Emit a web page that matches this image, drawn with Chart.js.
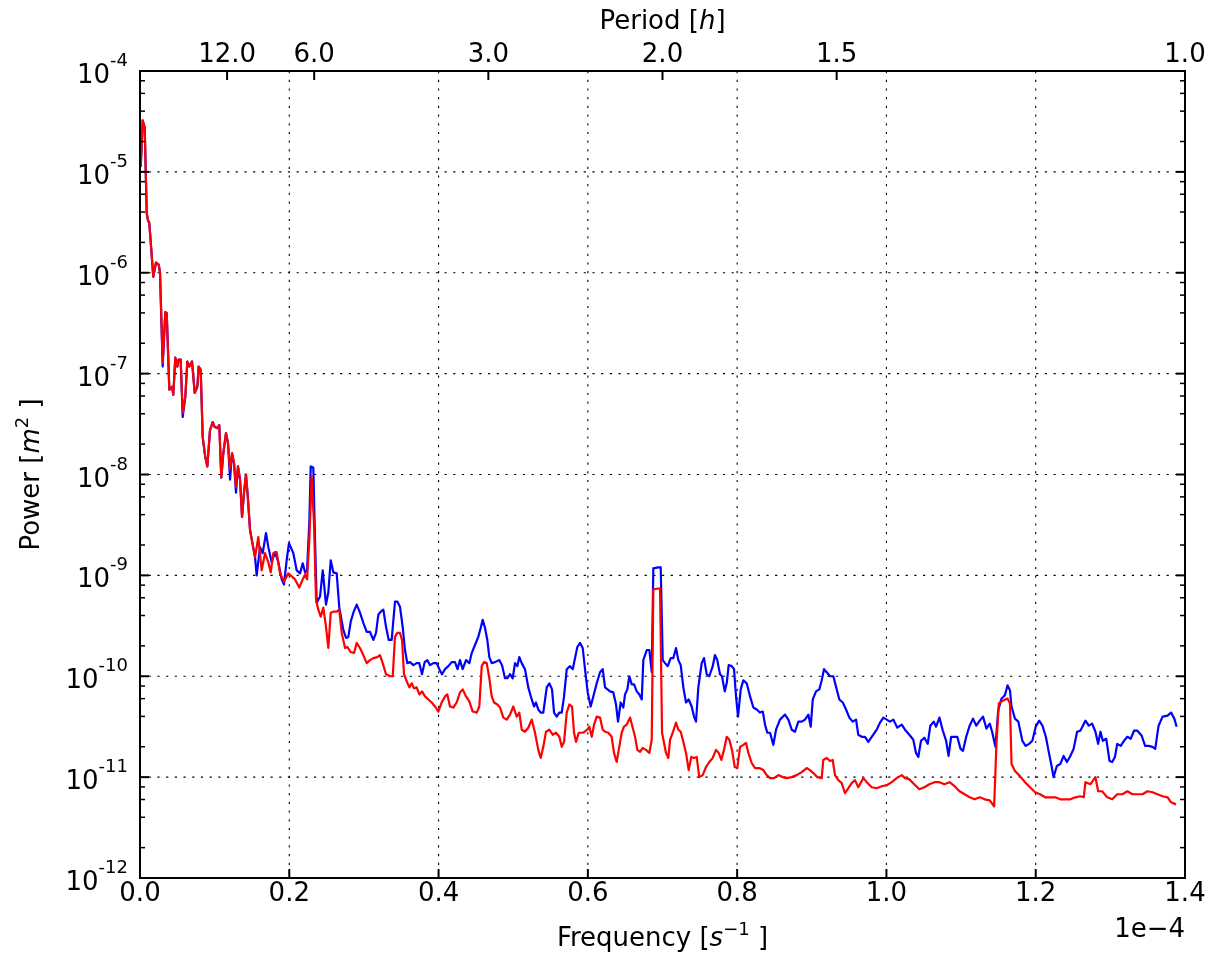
<!DOCTYPE html>
<html>
<head>
<meta charset="utf-8">
<script src="https://cdn.jsdelivr.net/npm/chart.js@4/dist/chart.umd.min.js"></script>
<style>
  body { margin: 0; background: #fff; }
</style>
</head>
<body>
<canvas id="spectrum" width="1211" height="955"></canvas>
<script>
// frequency in units of 1e-4 Hz, power as log10(P [m^2])
const bluePoints = [
  [0.001,-4.95],[0.0036,-4.49],[0.0063,-4.56],[0.009,-5.41],[0.0107,-5.48],[0.0125,-5.51],[0.0178,-6.04],[0.0214,-5.90],[0.0251,-5.92],[0.0268,-6.00],
  [0.0304,-6.93],[0.0339,-6.39],[0.0358,-6.40],[0.0393,-7.16],[0.0429,-7.13],[0.0446,-7.21],[0.0473,-6.84],[0.05,-6.93],[0.0518,-6.86],[0.0545,-6.86],
  [0.0572,-7.43],[0.0607,-7.23],[0.0634,-6.88],[0.066,-6.93],[0.0697,-6.88],[0.0733,-7.19],[0.0768,-7.13],[0.0786,-6.93],[0.0813,-6.96],[0.084,-7.63],
  [0.0875,-7.83],[0.0902,-7.92],[0.0938,-7.56],[0.0974,-7.48],[0.1001,-7.53],[0.1036,-7.54],[0.1062,-7.51],[0.1089,-8.03],[0.1116,-7.79],[0.1152,-7.59],
  [0.1179,-7.69],[0.1206,-8.05],[0.1233,-7.79],[0.126,-7.89],[0.1286,-8.18],[0.1313,-7.92],[0.134,-8.05],[0.1367,-8.42],[0.1393,-8.18],[0.142,-8.00],
  [0.1447,-8.25],[0.1474,-8.55],
  [0.1541,-8.82],[0.1563,-9.00],[0.1608,-8.72],[0.1644,-8.78],[0.1688,-8.58],[0.1719,-8.72],[0.1764,-8.87],[0.1809,-8.77],[0.1853,-8.87],[0.1898,-9.04],
  [0.1929,-9.09],[0.1965,-8.85],[0.1996,-8.68],[0.2054,-8.78],[0.2099,-8.95],[0.2144,-8.98],[0.218,-8.88],[0.2211,-8.97],[0.2238,-8.95],[0.2268,-8.48],
  [0.2287,-7.92],[0.2322,-7.93],[0.2345,-8.65],[0.2367,-9.27],[0.2412,-9.21],[0.2448,-8.95],[0.2492,-9.29],[0.2523,-9.17],[0.2555,-8.85],[0.259,-8.97],
  [0.2635,-8.98],[0.267,-9.32],[0.2724,-9.54],[0.276,-9.62],[0.2791,-9.61],[0.2823,-9.46],[0.2858,-9.37],[0.2903,-9.29],[0.2947,-9.37],[0.2992,-9.47],
  [0.3037,-9.56],[0.3081,-9.56],[0.3126,-9.64],[0.3162,-9.57],[0.3193,-9.39],[0.3225,-9.36],[0.326,-9.34],[0.3296,-9.51],[0.3332,-9.64],[0.3372,-9.64],
  [0.3416,-9.26],[0.3447,-9.26],[0.3483,-9.31],[0.3519,-9.51],[0.355,-9.74],[0.3581,-9.87],[0.3617,-9.86],[0.3662,-9.89],[0.3707,-9.87],[0.3742,-9.87],
  [0.3778,-9.98],[0.3814,-9.86],[0.3849,-9.84],[0.3885,-9.89],[0.393,-9.87],[0.3975,-9.87],[0.401,-9.93],[0.4046,-9.98],[0.4086,-9.93],[0.4131,-9.90],
  [0.4176,-9.86],[0.422,-9.86],[0.4254,-9.93],[0.4287,-9.84],[0.4323,-9.93],[0.4368,-9.84],[0.4412,-9.87],[0.4444,-9.77],[0.4488,-9.69],[0.4532,-9.61],
  [0.4565,-9.52],[0.4591,-9.44],[0.4622,-9.52],[0.4653,-9.64],[0.468,-9.81],[0.4712,-9.87],[0.4756,-9.86],[0.4814,-9.84],[0.485,-9.89],[0.489,-10.02],
  [0.4921,-10.02],[0.4957,-9.98],[0.4993,-10.02],[0.5024,-9.87],[0.5055,-9.90],[0.5082,-9.81],[0.5114,-9.87],[0.5158,-9.93],[0.5202,-10.11],[0.5248,-10.23],
  [0.5279,-10.30],[0.5305,-10.26],[0.5336,-10.33],[0.5368,-10.36],[0.5403,-10.36],[0.5449,-10.11],[0.5484,-10.07],[0.552,-10.13],[0.5547,-10.36],[0.5583,-10.40],
  [0.5618,-10.36],[0.565,-10.36],[0.5681,-10.20],[0.5717,-9.93],[0.5761,-9.90],[0.5797,-9.93],[0.5859,-9.71],[0.5895,-9.67],[0.5931,-9.72],[0.5962,-9.93],
  [0.5998,-10.16],[0.6038,-10.30],[0.6073,-10.20],[0.6119,-10.07],[0.6163,-9.96],[0.6199,-9.93],[0.623,-10.11],[0.6297,-10.15],[0.6341,-10.16],[0.6377,-10.28],
  [0.6404,-10.45],[0.644,-10.26],[0.6475,-10.31],[0.6498,-10.18],[0.6529,-10.13],[0.6556,-10.00],[0.6588,-10.08],[0.6619,-10.08],[0.6655,-10.15],[0.669,-10.18],
  [0.6722,-10.23],[0.6743,-9.84],[0.6789,-9.74],[0.6824,-9.74],[0.6856,-9.96],[0.6877,-8.93],[0.6944,-8.92],[0.6976,-8.92],[0.7003,-9.84],[0.7034,-9.87],
  [0.707,-9.90],[0.711,-9.82],[0.7145,-9.82],[0.7181,-9.72],[0.7212,-9.84],[0.7244,-9.89],[0.7279,-10.11],[0.7315,-10.26],[0.7351,-10.23],[0.7391,-10.30],
  [0.7422,-10.40],[0.7449,-10.45],[0.748,-10.11],[0.7525,-9.87],[0.7556,-9.82],[0.7592,-9.98],[0.7627,-10.00],[0.7673,-9.90],[0.7703,-9.79],[0.7734,-9.84],
  [0.777,-9.98],[0.7797,-10.00],[0.7834,-10.15],[0.786,-10.07],[0.7887,-9.89],[0.7927,-9.90],[0.7958,-9.93],[0.7985,-10.20],[0.8012,-10.40],[0.8048,-10.13],
  [0.8083,-10.04],[0.8128,-10.07],[0.8173,-10.20],[0.8217,-10.31],[0.8262,-10.33],[0.8307,-10.36],[0.8343,-10.35],[0.8374,-10.48],[0.8404,-10.56],[0.8441,-10.56],
  [0.8485,-10.68],[0.8521,-10.53],[0.8574,-10.43],[0.8641,-10.38],[0.8686,-10.43],[0.8731,-10.53],[0.8775,-10.55],[0.882,-10.45],[0.8865,-10.45],[0.8909,-10.43],
  [0.8954,-10.38],[0.8986,-10.50],[0.9013,-10.23],[0.9057,-10.15],[0.9101,-10.13],[0.9133,-10.04],[0.9164,-9.93],[0.92,-9.96],[0.9244,-10.00],[0.9289,-10.00],
  [0.9334,-10.13],[0.9369,-10.23],[0.9415,-10.26],[0.9459,-10.33],[0.9503,-10.41],[0.9548,-10.45],[0.9593,-10.43],[0.9623,-10.58],[0.9669,-10.60],[0.9713,-10.60],
  [0.9757,-10.65],[0.9803,-10.60],[0.987,-10.53],[0.9914,-10.46],[0.9959,-10.41],[1.0004,-10.43],[1.0048,-10.45],[1.0093,-10.43],[1.0146,-10.51],[1.0205,-10.48],
  [1.0249,-10.53],[1.0307,-10.58],[1.036,-10.63],[1.0396,-10.76],[1.0427,-10.80],[1.0463,-10.64],[1.0508,-10.61],[1.0553,-10.67],[1.0588,-10.49],[1.0634,-10.45],
  [1.0665,-10.50],[1.071,-10.41],[1.0756,-10.54],[1.08,-10.64],[1.0832,-10.79],[1.0867,-10.60],[1.0913,-10.60],[1.0949,-10.60],[1.0993,-10.72],[1.1025,-10.74],
  [1.1069,-10.60],[1.1115,-10.49],[1.116,-10.42],[1.1204,-10.49],[1.125,-10.44],[1.1294,-10.40],[1.134,-10.52],[1.1384,-10.47],[1.1416,-10.55],[1.146,-10.70],
  [1.1497,-10.34],[1.1542,-10.22],[1.1586,-10.19],[1.1623,-10.09],[1.1655,-10.14],[1.1676,-10.30],[1.1722,-10.42],[1.1767,-10.45],[1.1821,-10.64],[1.1865,-10.69],
  [1.1911,-10.67],[1.1955,-10.64],[1.2,-10.50],[1.2046,-10.44],[1.209,-10.49],[1.2136,-10.60],[1.2172,-10.74],[1.2207,-10.87],[1.2239,-11.00],[1.2283,-10.89],
  [1.2329,-10.87],[1.2374,-10.79],[1.2418,-10.85],[1.2464,-10.79],[1.2508,-10.72],[1.2554,-10.55],[1.2598,-10.54],[1.2666,-10.44],[1.2711,-10.49],[1.2756,-10.47],
  [1.28,-10.55],[1.2836,-10.67],[1.2868,-10.55],[1.2899,-10.64],[1.2945,-10.62],[1.2989,-10.84],[1.3025,-10.85],[1.3061,-10.80],[1.3092,-10.67],[1.3138,-10.69],
  [1.3183,-10.64],[1.3228,-10.60],[1.3273,-10.62],[1.3317,-10.54],[1.3363,-10.54],[1.342,-10.59],[1.3466,-10.69],[1.3511,-10.69],[1.3565,-10.70],[1.3601,-10.72],
  [1.3646,-10.49],[1.37,-10.40],[1.3767,-10.39],[1.3813,-10.36],[1.3857,-10.42],[1.3888,-10.50]
];

const redPoints = [
  [0.001,-4.95],[0.0036,-4.49],[0.0063,-4.56],[0.009,-5.41],[0.0107,-5.48],[0.0125,-5.51],[0.0178,-6.04],[0.0214,-5.90],[0.0251,-5.92],[0.0268,-6.00],
  [0.0304,-6.89],[0.0339,-6.39],[0.0358,-6.40],[0.0393,-7.16],[0.0429,-7.13],[0.0446,-7.21],[0.0473,-6.84],[0.05,-6.93],[0.0518,-6.86],[0.0545,-6.86],
  [0.0572,-7.39],[0.0607,-7.23],[0.0634,-6.88],[0.066,-6.93],[0.0697,-6.88],[0.0733,-7.19],[0.0768,-7.13],[0.0786,-6.93],[0.0813,-6.96],[0.084,-7.63],
  [0.0875,-7.83],[0.0902,-7.92],[0.0938,-7.56],[0.0974,-7.48],[0.1001,-7.53],[0.1036,-7.54],[0.1062,-7.51],[0.1089,-8.03],[0.1116,-7.79],[0.1152,-7.59],
  [0.1179,-7.69],[0.1206,-7.95],[0.1233,-7.79],[0.126,-7.89],[0.1286,-8.12],[0.1313,-7.92],[0.134,-8.05],[0.1367,-8.42],[0.1393,-8.18],[0.142,-8.00],
  [0.1447,-8.25],[0.1474,-8.55],[0.1541,-8.82],[0.1585,-8.62],[0.163,-8.95],[0.1675,-8.78],[0.1719,-8.87],[0.1751,-8.97],[0.1786,-8.78],[0.1831,-8.77],
  [0.1876,-8.98],[0.1929,-9.06],[0.1987,-8.98],[0.2077,-9.04],[0.2134,-9.12],[0.218,-9.04],[0.2211,-8.99],[0.2238,-9.04],[0.2268,-8.65],[0.23,-8.02],
  [0.2331,-8.48],[0.2358,-9.24],[0.2389,-9.34],[0.2421,-9.41],[0.2456,-9.32],[0.2492,-9.51],[0.2523,-9.72],[0.2555,-9.37],[0.259,-9.36],[0.2635,-9.36],
  [0.267,-9.34],[0.2702,-9.57],[0.2747,-9.72],[0.2778,-9.71],[0.2823,-9.76],[0.2867,-9.77],[0.2903,-9.67],[0.2947,-9.72],[0.2992,-9.79],[0.3037,-9.87],
  [0.3081,-9.84],[0.3126,-9.82],[0.3179,-9.81],[0.3215,-9.79],[0.3251,-9.87],[0.3296,-9.98],[0.335,-10.00],[0.3386,-10.00],[0.3416,-9.61],[0.3447,-9.57],
  [0.3483,-9.57],[0.351,-9.64],[0.3537,-9.98],[0.3573,-10.05],[0.3608,-10.11],[0.364,-10.07],[0.3671,-10.12],[0.3707,-10.11],[0.3742,-10.18],[0.3778,-10.15],
  [0.3818,-10.20],[0.3863,-10.23],[0.3908,-10.26],[0.3952,-10.30],[0.3997,-10.35],[0.4042,-10.26],[0.4086,-10.20],[0.4117,-10.18],[0.4153,-10.30],[0.4198,-10.31],
  [0.4243,-10.26],[0.4287,-10.16],[0.4323,-10.13],[0.4368,-10.20],[0.4412,-10.25],[0.4457,-10.35],[0.4511,-10.36],[0.4546,-10.30],[0.4578,-9.90],[0.4609,-9.86],
  [0.4645,-9.87],[0.468,-10.02],[0.4712,-10.20],[0.4743,-10.26],[0.4787,-10.28],[0.4823,-10.31],[0.4868,-10.41],[0.4913,-10.43],[0.4957,-10.38],[0.5001,-10.30],
  [0.5047,-10.40],[0.5082,-10.36],[0.5114,-10.53],[0.5158,-10.55],[0.5202,-10.51],[0.5248,-10.43],[0.5292,-10.56],[0.5336,-10.73],[0.5368,-10.81],[0.5403,-10.70],
  [0.5439,-10.55],[0.5484,-10.53],[0.5529,-10.58],[0.5573,-10.56],[0.5618,-10.60],[0.565,-10.70],[0.5681,-10.65],[0.5717,-10.36],[0.5752,-10.28],[0.5788,-10.30],
  [0.5815,-10.56],[0.5841,-10.65],[0.5878,-10.56],[0.5939,-10.56],[0.5993,-10.53],[0.602,-10.50],[0.6052,-10.60],[0.6083,-10.48],[0.6119,-10.40],[0.6163,-10.41],
  [0.6199,-10.53],[0.623,-10.55],[0.6274,-10.56],[0.6319,-10.60],[0.635,-10.76],[0.6386,-10.85],[0.6421,-10.70],[0.6453,-10.56],[0.6484,-10.50],[0.652,-10.48],
  [0.6565,-10.41],[0.6601,-10.51],[0.6632,-10.60],[0.6663,-10.73],[0.6699,-10.75],[0.6735,-10.71],[0.6779,-10.73],[0.6824,-10.76],[0.6856,-10.63],[0.6877,-9.14],
  [0.6944,-9.13],[0.6967,-9.13],[0.6994,-10.56],[0.702,-10.66],[0.7047,-10.76],[0.7078,-10.81],[0.7101,-10.63],[0.7137,-10.56],[0.7181,-10.46],[0.7212,-10.53],
  [0.7244,-10.55],[0.7279,-10.65],[0.7315,-10.76],[0.7351,-10.93],[0.7386,-10.80],[0.7422,-10.81],[0.7458,-10.80],[0.7493,-11.00],[0.7539,-10.98],[0.7583,-10.90],
  [0.7627,-10.85],[0.7673,-10.81],[0.7717,-10.73],[0.7753,-10.76],[0.7788,-10.83],[0.7824,-10.73],[0.786,-10.60],[0.7895,-10.63],[0.7931,-10.73],[0.7968,-10.90],
  [0.8002,-10.91],[0.8039,-10.70],[0.8083,-10.68],[0.8119,-10.66],[0.815,-10.76],[0.8195,-10.86],[0.824,-10.91],[0.8297,-10.91],[0.8351,-10.93],[0.8396,-10.98],
  [0.8441,-11.01],[0.8494,-11.01],[0.8552,-10.98],[0.8611,-11.00],[0.8664,-11.01],[0.8731,-11.00],[0.8798,-10.98],[0.8865,-10.95],[0.8932,-10.91],[0.8976,-10.93],
  [0.9021,-10.96],[0.9074,-11.00],[0.9133,-11.01],[0.9154,-10.83],[0.92,-10.81],[0.9244,-10.84],[0.928,-10.83],[0.9311,-10.98],[0.9356,-11.03],[0.9401,-11.06],
  [0.9445,-11.16],[0.949,-11.11],[0.9535,-11.06],[0.9579,-11.03],[0.9623,-11.10],[0.9691,-11.01],[0.9736,-11.05],[0.9803,-11.10],[0.987,-11.11],[0.9937,-11.09],
  [1.0004,-11.08],[1.0071,-11.05],[1.0138,-11.01],[1.0205,-10.98],[1.0249,-11.01],[1.0305,-11.02],[1.0372,-11.07],[1.0441,-11.12],[1.0508,-11.10],[1.0575,-11.07],
  [1.0643,-11.05],[1.071,-11.05],[1.0777,-11.07],[1.0845,-11.05],[1.0913,-11.09],[1.0979,-11.14],[1.1048,-11.17],[1.1115,-11.20],[1.1182,-11.22],[1.125,-11.20],
  [1.1317,-11.22],[1.1384,-11.23],[1.1443,-11.29],[1.1474,-10.67],[1.1506,-10.27],[1.1565,-10.24],[1.1623,-10.22],[1.1655,-10.27],[1.1676,-10.87],[1.1722,-10.94],
  [1.1789,-10.99],[1.1857,-11.05],[1.1924,-11.10],[1.1991,-11.15],[1.2058,-11.17],[1.2126,-11.20],[1.2193,-11.20],[1.2262,-11.20],[1.2329,-11.22],[1.2396,-11.22],
  [1.2464,-11.22],[1.2531,-11.20],[1.2598,-11.19],[1.2644,-11.20],[1.2666,-11.05],[1.2733,-11.07],[1.28,-11.00],[1.2836,-11.14],[1.2889,-11.14],[1.2958,-11.20],
  [1.3025,-11.22],[1.3092,-11.17],[1.316,-11.17],[1.3228,-11.14],[1.3295,-11.17],[1.3363,-11.17],[1.343,-11.17],[1.3497,-11.14],[1.3565,-11.15],[1.3632,-11.17],
  [1.37,-11.19],[1.3767,-11.20],[1.3813,-11.25],[1.388,-11.27]
];

const freqTicks = [0.0, 0.2, 0.4, 0.6, 0.8, 1.0, 1.2, 1.4];
const powerExps = [-12, -11, -10, -9, -8, -7, -6, -5, -4];
const minorMult = [2, 4, 6, 8];
const periodTicks = [12.0, 6.0, 3.0, 2.0, 1.5, 1.0];
const fMax = 1.4;

const FONT = '"DejaVu Sans", sans-serif';
const big = '26px ' + FONT;
const bigIt = 'italic 26px ' + FONT;
const sup = '18px ' + FONT;

function toXY(pts) {
  return pts.map(p => ({ x: p[0], y: Math.pow(10, p[1]) }));
}

function richText(ctx, parts, x, y) {
  let w = 0;
  parts.forEach(p => { ctx.font = p[1]; w += ctx.measureText(p[0]).width; });
  let cx = x - w / 2;
  ctx.textAlign = 'left';
  parts.forEach(p => {
    ctx.font = p[1];
    ctx.fillText(p[0], cx, y + (p[2] || 0));
    cx += ctx.measureText(p[0]).width;
  });
}

function seg(ctx, x1, y1, x2, y2) {
  ctx.beginPath();
  ctx.moveTo(x1, y1);
  ctx.lineTo(x2, y2);
  ctx.stroke();
}

const axesPlugin = {
  id: 'mplAxes',
  beforeDatasetsDraw(chart) {
    const { ctx, chartArea: a, scales } = chart;
    ctx.save();
    ctx.strokeStyle = '#000';
    ctx.lineWidth = 1.1;
    ctx.setLineDash([2.2, 6.5]);
    scales.x.ticks.forEach(t => {
      const px = scales.x.getPixelForValue(t.value);
      seg(ctx, px, a.top, px, a.bottom);
    });
    scales.y.ticks.forEach(t => {
      const py = scales.y.getPixelForValue(t.value);
      seg(ctx, a.left, py, a.right, py);
    });
    ctx.restore();
  },
  afterDraw(chart) {
    const { ctx, chartArea: a, scales } = chart;
    const x = scales.x, xt = scales.xTop, y = scales.y;
    ctx.save();
    ctx.strokeStyle = '#000';
    ctx.fillStyle = '#000';
    ctx.lineWidth = 2;

    // ticks
    x.ticks.forEach(t => {
      const px = x.getPixelForValue(t.value);
      seg(ctx, px, a.bottom, px, a.bottom - 9);
    });
    xt.ticks.forEach(t => {
      const px = xt.getPixelForValue(t.value);
      seg(ctx, px, a.top, px, a.top + 9);
    });
    y.ticks.forEach(t => {
      const py = y.getPixelForValue(t.value);
      seg(ctx, a.left, py, a.left + 9, py);
      seg(ctx, a.right, py, a.right - 9, py);
    });
    ctx.lineWidth = 1.5;
    powerExps.slice(0, -1).forEach(e => {
      minorMult.forEach(m => {
        const py = y.getPixelForValue(m * Math.pow(10, e));
        seg(ctx, a.left, py, a.left + 5, py);
        seg(ctx, a.right, py, a.right - 5, py);
      });
    });

    // frame
    ctx.lineWidth = 2;
    ctx.strokeRect(a.left, a.top, a.right - a.left, a.bottom - a.top);

    // bottom tick labels
    ctx.font = big;
    ctx.textAlign = 'center';
    ctx.textBaseline = 'alphabetic';
    x.ticks.forEach(t => {
      ctx.fillText(t.value.toFixed(1), x.getPixelForValue(t.value), a.bottom + 23);
    });
    ctx.textAlign = 'right';
    ctx.fillText('1e\u22124', a.right, a.bottom + 59);

    // top tick labels
    ctx.textAlign = 'center';
    xt.ticks.forEach((t, i) => {
      ctx.fillText(periodTicks[i].toFixed(1), xt.getPixelForValue(t.value), a.top - 9);
    });

    // y tick labels 10^e
    y.ticks.forEach(t => {
      const e = Math.round(Math.log10(t.value));
      const py = y.getPixelForValue(t.value);
      const right = a.left - 12;
      ctx.textAlign = 'right';
      ctx.font = sup;
      const es = '-' + Math.abs(e);
      const ew = ctx.measureText(es).width;
      ctx.fillText(es, right, py - 5);
      ctx.font = big;
      ctx.fillText('10', right - ew, py + 12);
    });

    // axis titles
    richText(ctx, [['Frequency [', big], ['s', bigIt], ['\u22121', sup, -11], [' ]', big]], (a.left + a.right) / 2, a.bottom + 68);
    richText(ctx, [['Period [', big], ['h', bigIt], [']', big]], (a.left + a.right) / 2, 29);
    ctx.translate(39, (a.top + a.bottom) / 2);
    ctx.rotate(-Math.PI / 2);
    richText(ctx, [['Power [', big], ['m', bigIt], ['2', sup, -11], [' ]', big]], 0, 0);
    ctx.restore();
  }
};

const hidden = { ticks: { display: false }, grid: { display: false }, border: { display: false } };

new Chart(document.getElementById('spectrum'), {
  type: 'line',
  data: {
    datasets: [
      { label: 'red', data: toXY(redPoints), borderColor: '#ff0000', borderWidth: 2.2, pointRadius: 0, borderJoinStyle: 'round', order: 1 },
      { label: 'blue', data: toXY(bluePoints), borderColor: '#0000ff', borderWidth: 2.2, pointRadius: 0, borderJoinStyle: 'round', order: 2 }
    ]
  },
  options: {
    responsive: false,
    animation: false,
    devicePixelRatio: 1,
    layout: { padding: { left: 0, right: 26, top: 0, bottom: 0 } },
    plugins: { legend: { display: false }, tooltip: { enabled: false } },
    scales: {
      x: {
        type: 'linear', position: 'bottom', min: 0, max: fMax, ...hidden,
        afterBuildTicks: s => { s.ticks = freqTicks.map(v => ({ value: v })); },
        afterFit: s => { s.height = 77; }
      },
      xTop: {
        type: 'linear', position: 'top', min: 0, max: fMax, ...hidden,
        afterBuildTicks: s => { s.ticks = periodTicks.map(p => ({ value: fMax / p })); },
        afterFit: s => { s.height = 71; }
      },
      y: {
        type: 'logarithmic', position: 'left', min: 1e-12, max: 1e-4, ...hidden,
        afterBuildTicks: s => { s.ticks = powerExps.map(e => ({ value: Math.pow(10, e) })); },
        afterFit: s => { s.width = 140; }
      }
    }
  },
  plugins: [axesPlugin]
});
</script>
</body>
</html>
